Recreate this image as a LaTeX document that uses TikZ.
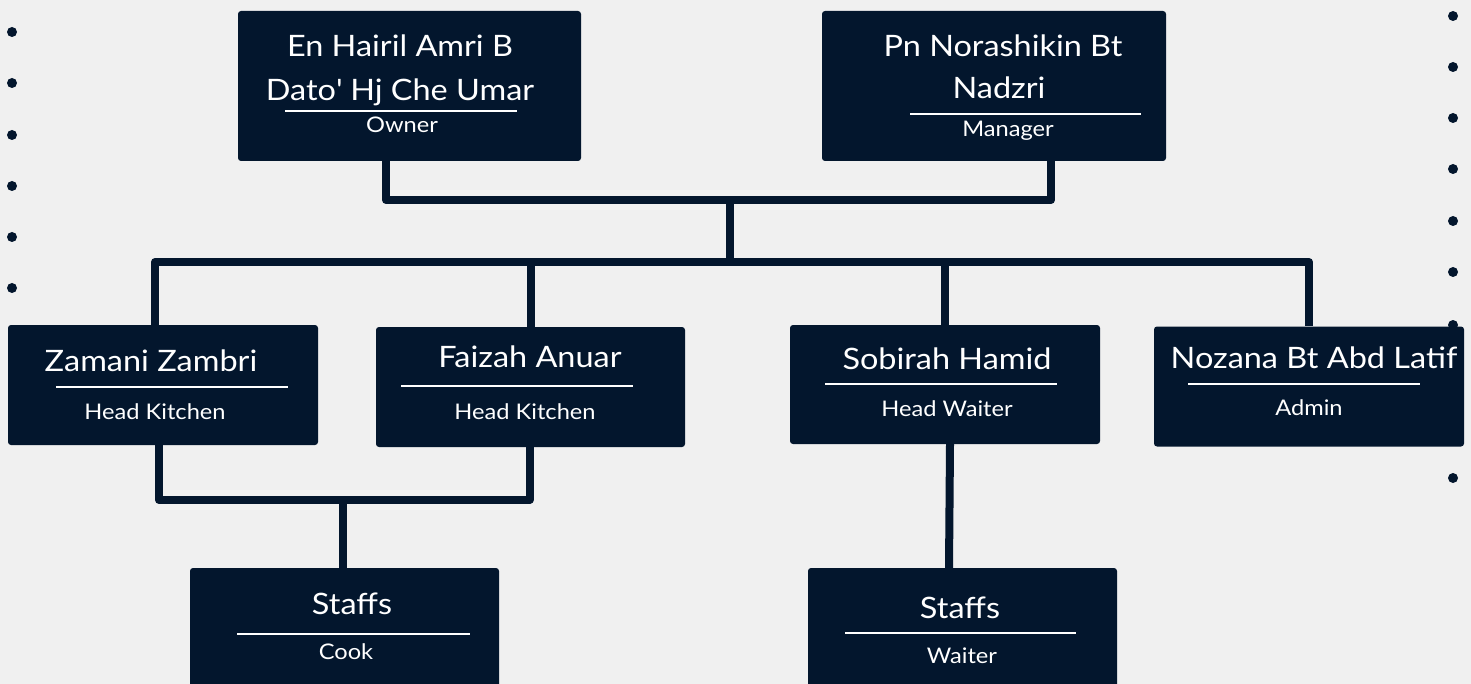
\documentclass[tikz,border=0pt]{standalone}
\usepackage{fontspec}
\setmainfont{Lato}[FakeStretch=1.1]
\usetikzlibrary{positioning}
\definecolor{navy}{RGB}{3,22,45}
\definecolor{paper}{RGB}{240,240,240}
\tikzset{
  card/.style={fill=navy, rounded corners=3pt, inner sep=0pt},
  bigname/.style={text=white, anchor=base, inner sep=0pt, font=\fontsize{29.5}{34}\selectfont},
  rolename/.style={text=white, anchor=base, inner sep=0pt, font=\fontsize{21.5}{25}\selectfont},
  rule/.style={draw=white, line width=1.6pt},
  link/.style={draw=navy, line width=8pt, line join=round},
  dot/.style={circle, fill=navy, inner sep=0pt, minimum size=10pt}
}

\begin{document}
\begin{tikzpicture}[x=1pt, y=-1pt]
    \fill[paper] (0,0) rectangle (1471,684);
    \useasboundingbox (0,0) rectangle (1471,684);

    % side dots
    \foreach \y [count=\i] in {32,83,135,186,237,288}
        \node[dot] (ldot\i) at (12,\y) {};
    \foreach \y [count=\i] in {16,67,118,169,221,272,325,478}
        \node[dot] (rdot\i) at (1453,\y) {};

    % cards
    \node[card, minimum width=343pt, minimum height=150pt] (owner) at (409.5,86) {};
    \node[card, minimum width=344pt, minimum height=150pt] (manager) at (994,86) {};
    \node[card, minimum width=310pt, minimum height=120pt] (headA) at (163,385) {};
    \node[card, minimum width=309pt, minimum height=120pt] (headB) at (530.5,387) {};
    \node[card, minimum width=310pt, minimum height=119pt] (headwaiter) at (945,384.5) {};
    \node[card, minimum width=310pt, minimum height=120pt] (admin) at (1309,386.5) {};
    \node[card, minimum width=309pt, minimum height=124pt] (cook) at (344.5,630) {};
    \node[card, minimum width=309pt, minimum height=124pt] (waiter) at (962.5,630) {};

    % names and roles
    \node[bigname] (ownerA) at (400,57) {En Hairil Amri B};
    \node[bigname] (ownerB) at (400,101) {Dato\textquotesingle{} Hj Che Umar};
    \node[rolename] (ownerR) at (402,133) {Owner};
    \draw[rule] (285,111) -- (517,111);

    \node[bigname] (managerA) at (1003,57) {Pn Norashikin Bt};
    \node[bigname] (managerB) at (999,99) {Nadzri};
    \node[rolename] (managerR) at (1008,137) {Manager};
    \draw[rule] (910,114) -- (1141,114);

    \node[bigname] (headAN) at (151,371) {Zamani Zambri};
    \node[rolename] (headAR) at (155,419) {Head Kitchen};
    \draw[rule] (56,387) -- (288,387);

    \node[bigname] (headBN) at (530,367) {Faizah Anuar};
    \node[rolename] (headBR) at (525,419) {Head Kitchen};
    \draw[rule] (401,386) -- (633,386);

    \node[bigname] (headwaiterN) at (947,369) {Sobirah Hamid};
    \node[rolename] (headwaiterR) at (947,416) {Head Waiter};
    \draw[rule] (825,384) -- (1057,384);

    \node[bigname] (adminN) at (1314,368) {Nozana Bt Abd Latif};
    \node[rolename] (adminR) at (1309,415) {Admin};
    \draw[rule] (1188,384) -- (1420,384);

    \node[bigname] (cookN) at (352,614) {Staffs};
    \node[rolename] (cookR) at (346,659) {Cook};
    \draw[rule] (237,634) -- (470,634);

    \node[bigname] (waiterN) at (960,618) {Staffs};
    \node[rolename] (waiterR) at (962,663) {Waiter};
    \draw[rule] (845,633) -- (1076,633);

    % connectors
    \coordinate (topjoin) at (730,200);
    \coordinate (bus) at (730,262);
    \coordinate (kitchen) at (343,500);

    \draw[link] ([xshift=-23.5pt]owner.south) |- (topjoin) -| ([xshift=57pt]manager.south);
    \draw[link] (topjoin) -- (bus);
    \draw[link] ([xshift=-8pt]headA.north) |- (bus) -| (admin.north);
    \draw[link] (headB.north) -- (headB.north |- bus);
    \draw[link] (headwaiter.north) -- (headwaiter.north |- bus);

    \draw[link] ([xshift=-4pt]headA.south) |- (kitchen) -| ([xshift=-1pt]headB.south);
    \draw[link] (kitchen) -- (kitchen |- cook.north);
    \draw[link] ([xshift=5pt]headwaiter.south) -- ([xshift=-13.5pt]waiter.north);
\end{tikzpicture}
\end{document}
